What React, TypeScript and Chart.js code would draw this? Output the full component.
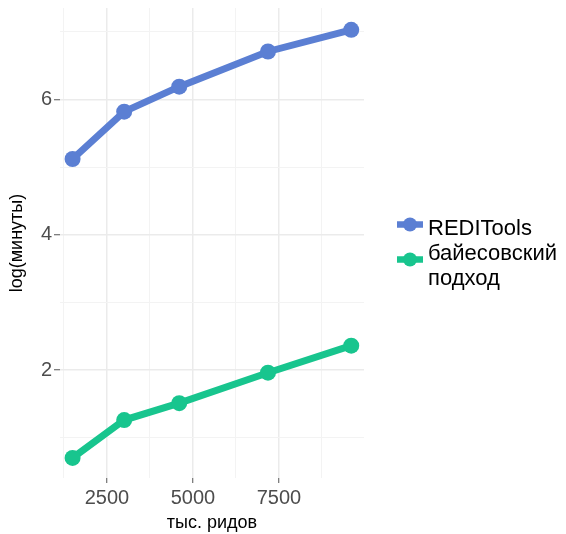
import React, { useEffect, useRef } from 'react';
import { Chart, registerables } from 'chart.js';

Chart.register(...registerables);

// ---- data ----
const readsK = [1500, 3000, 4600, 7180, 9600];
const rediTools = [5.12, 5.82, 6.19, 6.71, 7.03];
const bayes = [0.7, 1.26, 1.51, 1.96, 2.36];
const seriesNames = ['REDITools', 'байесовский\nподход'];
const xTickValues = [1250, 2500, 3750, 5000, 6250, 7500, 8750];
const xMajorTicks = [2500, 5000, 7500];
const yTickValues = [1, 2, 3, 4, 5, 6, 7];
const yMajorTicks = [2, 4, 6];
const xTitle = 'тыс. ридов';
const yTitle = 'log(минуты)';

const COLORS = ['#5b7fd3', '#18c58e'];
const FONT = "'Liberation Sans', Arial, Helvetica, sans-serif";

const legendPlugin = {
  id: 'ggLegend',
  afterDraw(chart: any) {
    const { ctx, chartArea } = chart;
    const cy = (chartArea.top + chartArea.bottom) / 2;
    const keyX = chartArea.right + 33;
    const textX = chartArea.right + 64;
    const entries = [
      { color: COLORS[0], keyY: cy - 18.5, lines: seriesNames[0].split('\n'), base: cy - 8 },
      { color: COLORS[1], keyY: cy + 16.5, lines: seriesNames[1].split('\n'), base: cy + 17 },
    ];
    ctx.save();
    entries.forEach((e) => {
      ctx.strokeStyle = e.color;
      ctx.fillStyle = e.color;
      ctx.lineWidth = 6.5;
      ctx.lineCap = 'butt';
      ctx.beginPath();
      ctx.moveTo(keyX, e.keyY);
      ctx.lineTo(keyX + 26, e.keyY);
      ctx.stroke();
      ctx.beginPath();
      ctx.arc(keyX + 13, e.keyY, 7, 0, Math.PI * 2);
      ctx.fill();
      ctx.fillStyle = '#000000';
      ctx.font = `22px ${FONT}`;
      ctx.textBaseline = 'alphabetic';
      ctx.textAlign = 'left';
      e.lines.forEach((ln, i) => {
        ctx.fillText(ln, textX, e.base + i * 24.5);
      });
    });
    ctx.restore();
  },
};

export default function App() {
  const ref = useRef<HTMLCanvasElement | null>(null);

  useEffect(() => {
    document.body.style.margin = '0';
    const canvas = ref.current;
    if (!canvas) return;

    const isMajorX = (v: number) => xMajorTicks.includes(v);
    const isMajorY = (v: number) => yMajorTicks.includes(v);

    const chart = new Chart(canvas, {
      type: 'line',
      data: {
        datasets: [
          {
            label: seriesNames[0],
            data: readsK.map((x, i) => ({ x, y: rediTools[i] })),
            borderColor: COLORS[0],
            backgroundColor: COLORS[0],
            borderWidth: 7,
            pointRadius: 8,
            pointBorderWidth: 0,
            pointBackgroundColor: COLORS[0],
            tension: 0,
          },
          {
            label: seriesNames[1],
            data: readsK.map((x, i) => ({ x, y: bayes[i] })),
            borderColor: COLORS[1],
            backgroundColor: COLORS[1],
            borderWidth: 7,
            pointRadius: 8,
            pointBorderWidth: 0,
            pointBackgroundColor: COLORS[1],
            tension: 0,
          },
        ],
      },
      options: {
        responsive: false,
        animation: false,
        layout: { padding: { top: 8, right: 202, left: 0, bottom: 0 } },
        plugins: {
          legend: { display: false },
          tooltip: { enabled: false },
        },
        scales: {
          x: {
            type: 'linear',
            min: 1134,
            max: 9971,
            afterBuildTicks: (s: any) => {
              s.ticks = xTickValues.map((v) => ({ value: v }));
            },
            afterFit: (s: any) => {
              s.height = 56;
              s.paddingLeft = 0;
              s.paddingRight = 0;
            },
            border: { display: false },
            grid: {
              color: (c: any) => (c.tick && isMajorX(c.tick.value) ? '#ebebeb' : '#f3f3f3'),
              lineWidth: (c: any) => (c.tick && isMajorX(c.tick.value) ? 1.5 : 1),
              drawTicks: true,
              tickLength: 5,
              tickWidth: 1,
              tickColor: (c: any) => (c.tick && isMajorX(c.tick.value) ? '#555555' : 'rgba(0,0,0,0)'),
            },
            ticks: {
              autoSkip: false,
              maxRotation: 0,
              padding: 3,
              color: '#4d4d4d',
              font: { family: FONT, size: 20 },
              callback: (v: any) => (isMajorX(Number(v)) ? String(v) : ''),
            },
            title: {
              display: true,
              text: xTitle,
              color: '#000000',
              font: { family: FONT, size: 18 },
              padding: { top: 0, bottom: 0 },
            },
          },
          y: {
            type: 'linear',
            min: 0.403,
            max: 7.353,
            afterBuildTicks: (s: any) => {
              s.ticks = yTickValues.map((v) => ({ value: v }));
            },
            afterFit: (s: any) => {
              s.width = 60;
              s.paddingTop = 0;
              s.paddingBottom = 0;
            },
            border: { display: false },
            grid: {
              color: (c: any) => (c.tick && isMajorY(c.tick.value) ? '#ebebeb' : '#f3f3f3'),
              lineWidth: (c: any) => (c.tick && isMajorY(c.tick.value) ? 1.5 : 1),
              drawTicks: true,
              tickLength: 6,
              tickWidth: 1,
              tickColor: (c: any) => (c.tick && isMajorY(c.tick.value) ? '#555555' : 'rgba(0,0,0,0)'),
            },
            ticks: {
              autoSkip: false,
              padding: 2,
              color: '#4d4d4d',
              font: { family: FONT, size: 20 },
              callback: (v: any) => (isMajorY(Number(v)) ? String(v) : ''),
            },
            title: {
              display: true,
              text: yTitle,
              color: '#000000',
              font: { family: FONT, size: 18 },
              padding: { top: 6, bottom: 0 },
            },
          },
        },
      },
      plugins: [legendPlugin],
    } as any);

    return () => {
      chart.destroy();
    };
  }, []);

  return (
    <div style={{ width: 566, height: 534, background: '#ffffff' }}>
      <canvas ref={ref} width={566} height={534} style={{ display: 'block' }} />
    </div>
  );
}
